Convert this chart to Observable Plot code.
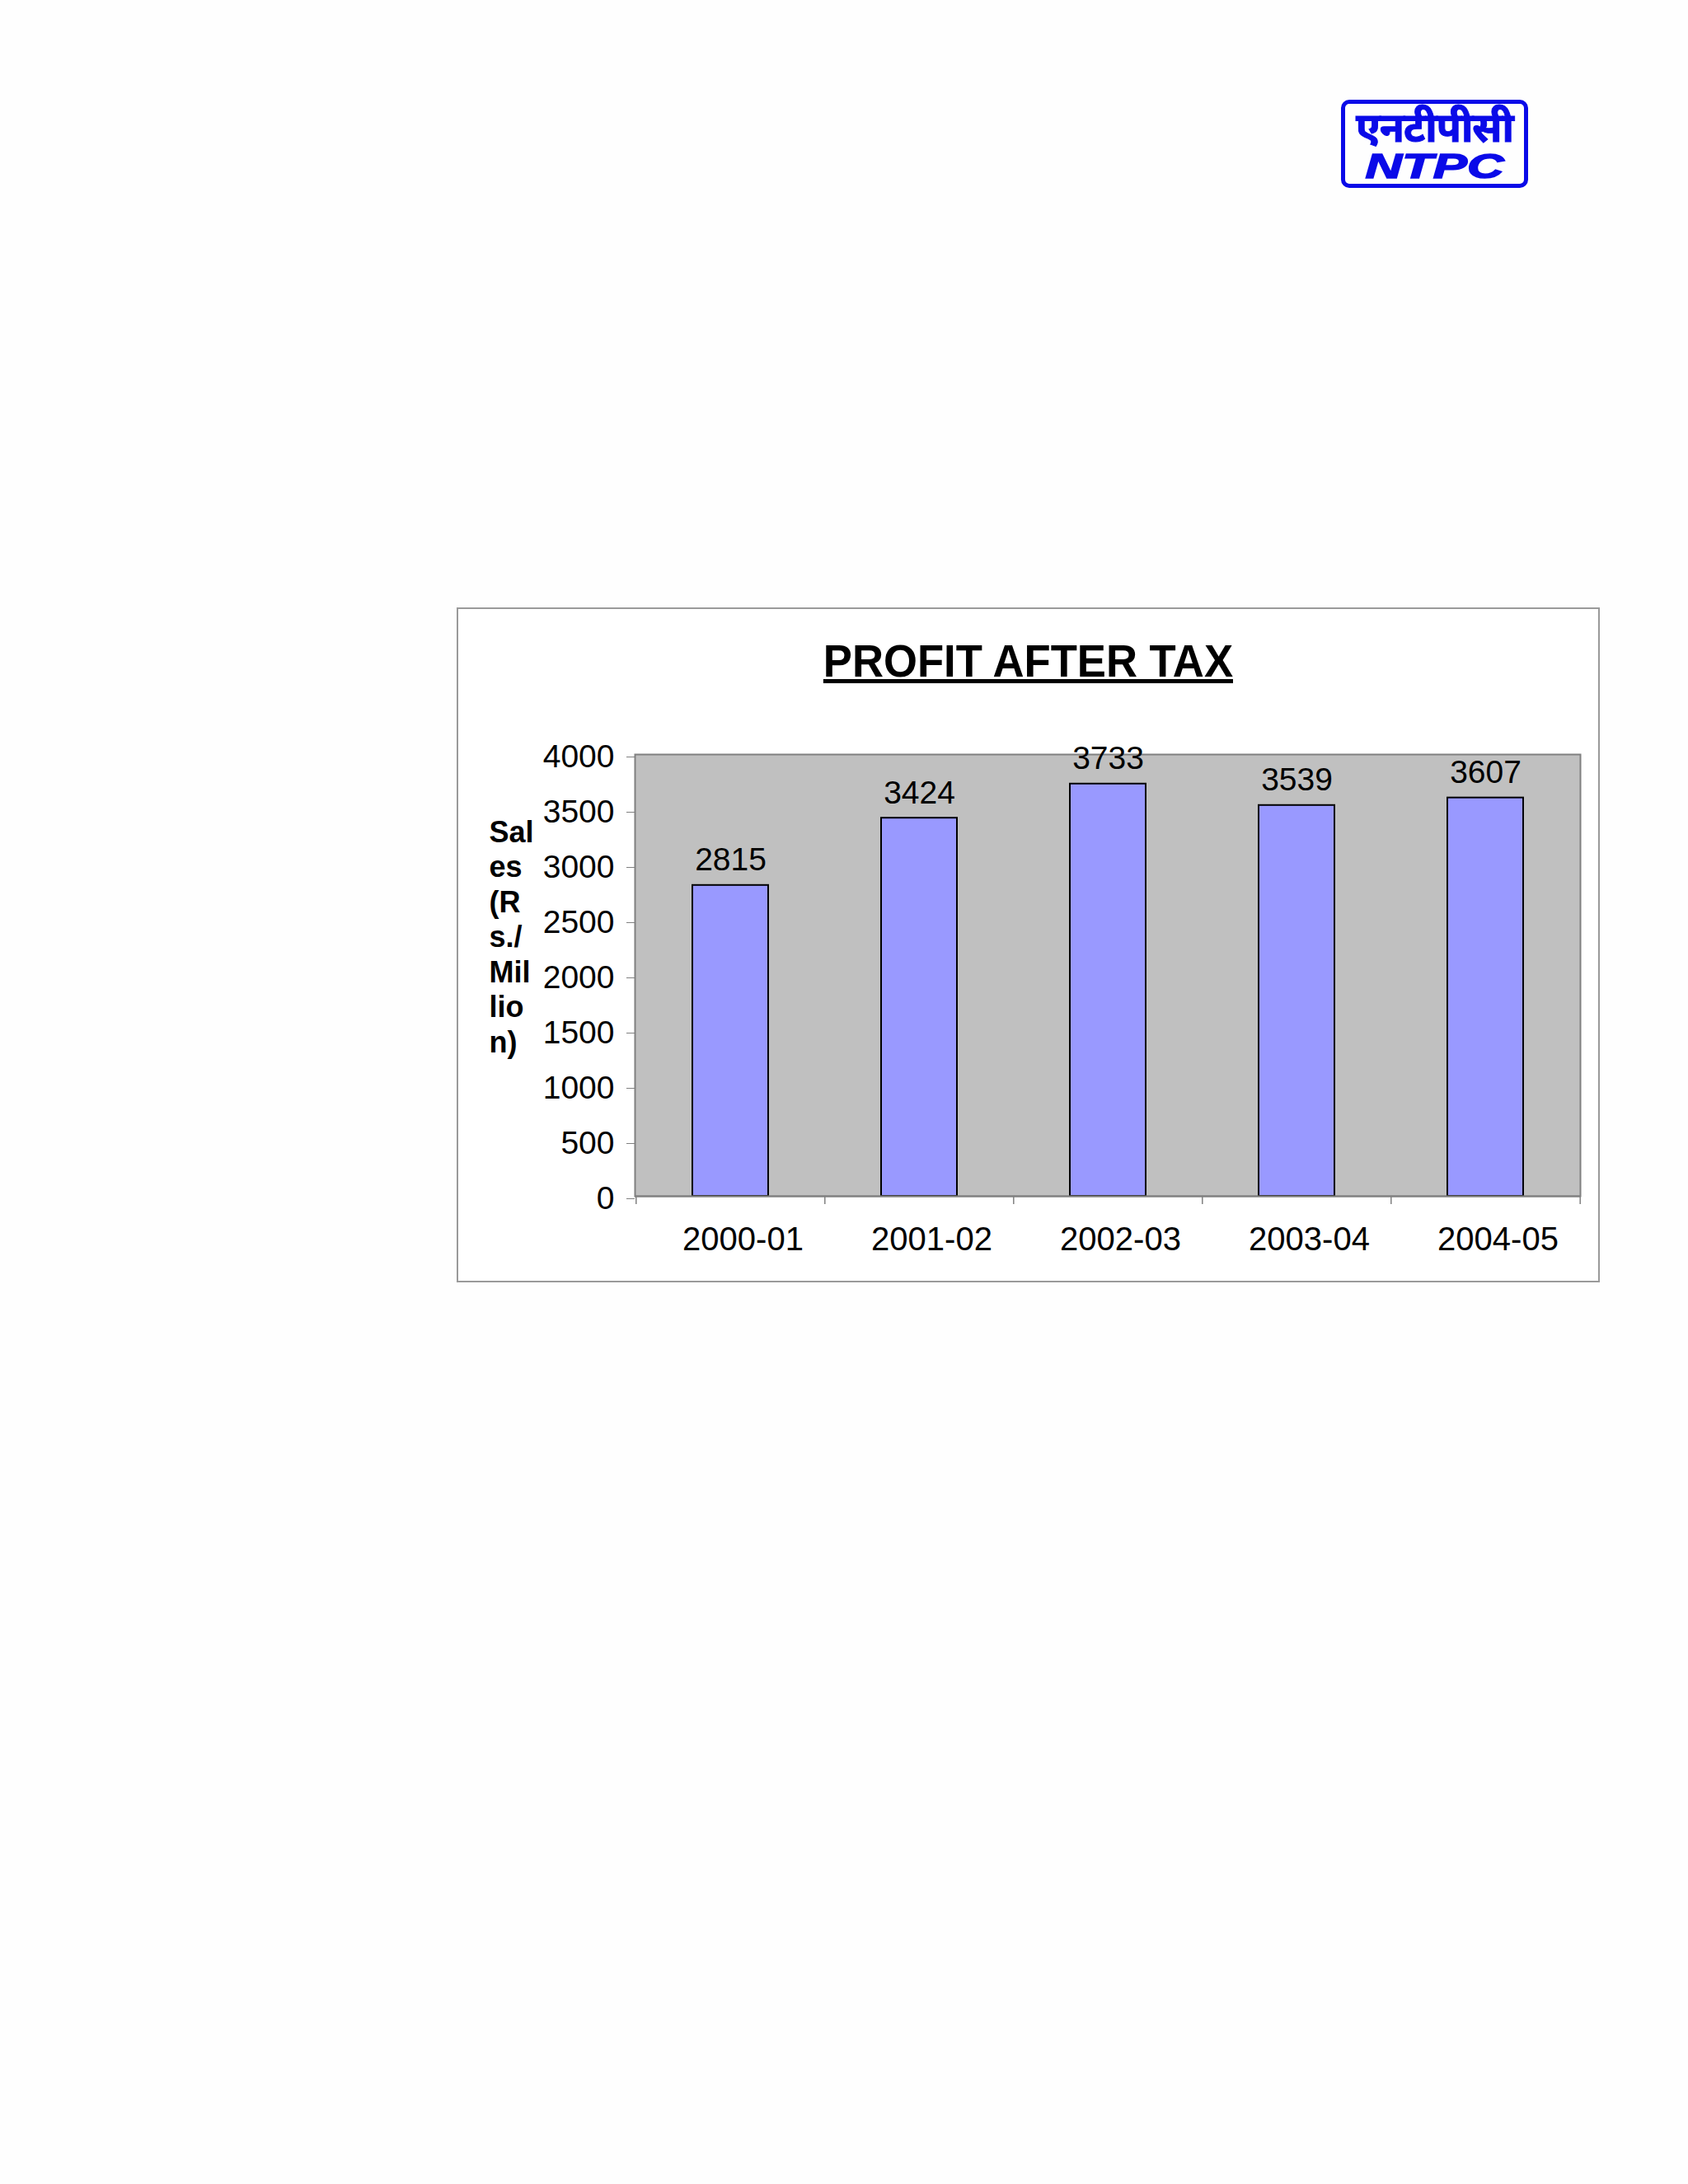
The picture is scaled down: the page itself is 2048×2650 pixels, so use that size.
<!DOCTYPE html>
<html>
<head>
<meta charset="utf-8">
<script src="https://cdn.jsdelivr.net/npm/d3@7"></script>
<script src="https://cdn.jsdelivr.net/npm/@observablehq/plot@0.6"></script>
<style>
  html, body { margin: 0; padding: 0; background: #fefefe; }
  body { width: 2048px; height: 2650px; position: relative; font-family: "Liberation Sans", Arial, sans-serif; }
  #logo { position: absolute; left: 1627px; top: 121px; width: 217px; height: 97px; border: 5px solid #0a0ae8; border-radius: 10px; color: #0a0ae8; }
  #logo .hi { position: absolute; left: 0; right: 0; top: 5px; height: 44px; text-align: center; font-family: "Noto Sans", "Noto Sans Devanagari", sans-serif; font-weight: bold; font-size: 49px; line-height: 44px; letter-spacing: -1px; -webkit-text-stroke: 1px #0a0ae8; }
  #logo .en { position: absolute; left: 0; right: 0; top: 58px; height: 36px; text-align: center; font-family: "Liberation Sans", Arial, sans-serif; font-weight: bold; font-style: italic; font-size: 42px; line-height: 36px; transform: scaleX(1.47); -webkit-text-stroke: 1.5px #0a0ae8; }
  #frame { position: absolute; left: 554px; top: 737px; width: 1383px; height: 815px; border: 2px solid #9a9a9a; background: #ffffff; }
  #title { position: absolute; left: 554px; width: 1387px; top: 770px; text-align: center; font-weight: bold; font-size: 56px; line-height: 64px; }
  #title span { display: inline-block; text-decoration: underline; text-decoration-thickness: 5px; text-underline-offset: 3px; transform: scaleX(0.94); }
  #chart { position: absolute; left: 556px; top: 860px; }
</style>
</head>
<body>
<div id="logo"><div class="hi">एनटीपीसी</div><div class="en">NTPC</div></div>
<div id="frame"></div>
<div id="title"><span>PROFIT AFTER TAX</span></div>
<div id="chart"></div>
<script>
const years = ["2000-01", "2001-02", "2002-03", "2003-04", "2004-05"];
const profit = [2815, 3424, 3733, 3539, 3607];
const yTicks = [0, 500, 1000, 1500, 2000, 2500, 3000, 3500, 4000];
const yLabel = "Sal\nes\n(R\ns./\nMil\nlio\nn)";

const data = years.map((y, i) => ({year: y, value: profit[i]}));

const W = 1383, H = 694;
const mL = 214, mR = 22, mT = 55, mB = 103;
const step = (W - mL - mR) / years.length;

const chart = Plot.plot({
  width: W,
  height: H,
  marginLeft: mL,
  marginRight: mR,
  marginTop: mT,
  marginBottom: mB,
  style: {fontFamily: "'Liberation Sans', Arial, sans-serif", fontSize: "38px", background: "transparent", overflow: "visible", color: "black"},
  x: {type: "band", domain: years, paddingInner: 0.6, paddingOuter: 0.3, label: null},
  y: {domain: [0, 4000], label: null},
  marks: [
    Plot.frame({fill: "#c0c0c0", stroke: "#808080", strokeWidth: 2}),
    Plot.barY(data, {x: "year", y: "value", fill: "#9999ff", stroke: "black", strokeWidth: 2}),
    Plot.text(data, {x: "year", y: "value", text: d => String(d.value), dy: -18, lineAnchor: "bottom", fontSize: 39, fill: "black"}),
    Plot.axisY({ticks: yTicks, tickSize: 10, tickPadding: 15, fontSize: 39, dy: 3, stroke: "#808080", fill: "black", tickFormat: d => String(d), label: null}),
    Plot.axisX({tickSize: 0, tickPadding: 37, fontSize: 40, dx: 15, fill: "black", label: null}),
    Plot.ruleX(years, {x: d => d, dx: -step / 2, y1: 0, y2: 0, insetBottom: -10, stroke: "#808080", strokeWidth: 1.5}),
    Plot.ruleX(years.slice(-1), {x: d => d, dx: step / 2, y1: 0, y2: 0, insetBottom: -10, stroke: "#808080", strokeWidth: 1.5}),
    Plot.ruleY([0], {stroke: "#808080", strokeWidth: 2}),
    Plot.text([yLabel], {text: d => d, frameAnchor: "top-left", dx: -177, dy: 76, lineAnchor: "top", textAnchor: "start", fontWeight: "bold", fontSize: 36, lineHeight: 1.18, fill: "black"})
  ]
});
document.getElementById("chart").appendChild(chart);
</script>
</body>
</html>
